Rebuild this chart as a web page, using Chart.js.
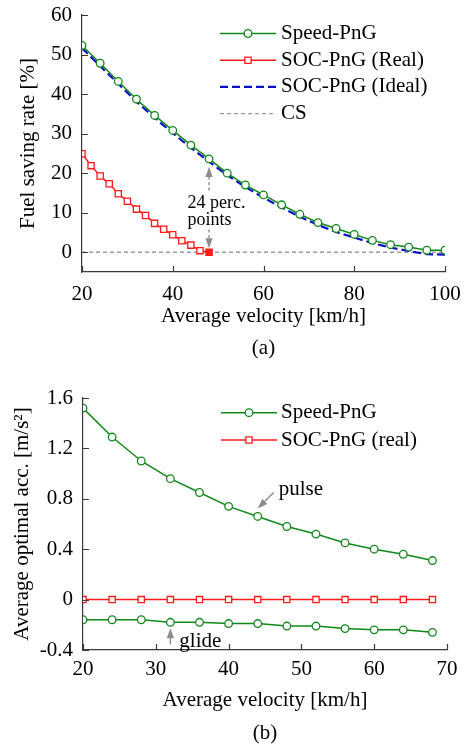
<!DOCTYPE html>
<html>
<head>
<meta charset="utf-8">
<script src="https://cdn.jsdelivr.net/npm/chart.js@4.4.1/dist/chart.umd.min.js"></script>
<style>
  html, body { margin: 0; padding: 0; background: #fff; }
  body { width: 465px; height: 748px; position: relative; overflow: hidden; }
  .panel { position: absolute; left: 0; width: 465px; }
  #panelA { top: 0; height: 370px; }
  #panelB { top: 370px; height: 378px; }
</style>
</head>
<body>
<div class="panel" id="panelA"><canvas id="chartA"></canvas></div>
<div class="panel" id="panelB"><canvas id="chartB"></canvas></div>
<script>
// ---------- (a) fuel saving rate vs. average velocity ----------
const speedVelocity = [20, 24, 28, 32, 36, 40, 44, 48, 52, 56, 60, 64, 68, 72, 76, 80, 84, 88, 92, 96, 100];
const speedSaving   = [52.3, 47.8, 43.2, 38.7, 34.6, 30.8, 27.1, 23.6, 20.0, 17.0, 14.5, 12.0, 9.6, 7.5, 6.0, 4.5, 3.0, 1.9, 1.3, 0.5, 0.5];
const idealSaving   = [51.6, 47.1, 42.6, 38.1, 34.0, 30.1, 26.4, 22.9, 19.5, 16.5, 13.8, 11.3, 9.0, 6.9, 5.1, 3.7, 2.3, 1.2, 0.3, -0.5, -0.6];
const socVelocity   = [20, 22, 24, 26, 28, 30, 32, 34, 36, 38, 40, 42, 44, 46, 48];
const socRealSaving = [24.9, 21.9, 19.3, 17.3, 14.8, 12.9, 10.9, 9.3, 7.3, 5.8, 4.4, 2.9, 1.8, 0.4, 0];
const csVelocity    = [20, 100];
const csSaving      = [0, 0];
const xTicksA = [20, 40, 60, 80, 100];
const yTicksA = [0, 10, 20, 30, 40, 50, 60];
const gapVelocity = 48;             // where the 24-point gap is marked

// ---------- (b) average optimal acceleration ----------
const accVelocity = [20, 24, 28, 32, 36, 40, 44, 48, 52, 56, 60, 64, 68];
const pulseAcc    = [1.52, 1.29, 1.10, 0.96, 0.85, 0.74, 0.66, 0.58, 0.52, 0.45, 0.40, 0.36, 0.31];
const glideAcc    = [-0.16, -0.16, -0.16, -0.18, -0.18, -0.19, -0.19, -0.21, -0.21, -0.23, -0.24, -0.24, -0.26];
const socRealAcc  = [0, 0, 0, 0, 0, 0, 0, 0, 0, 0, 0, 0, 0];
const xTicksB = [20, 30, 40, 50, 60, 70];
const yTicksB = [-0.4, 0, 0.4, 0.8, 1.2, 1.6];
const yTickLabelsB = ['-0.4', '0', '0.4', '0.8', '1.2', '1.6'];
const pulseMarkIndex = 6;           // point pointed at by "pulse"
const glideMarkIndex = 3;           // point pointed at by "glide"

const FAMILY = '"Liberation Serif", "Times New Roman", serif';
const GREEN = '#11881a';
const RED = '#ff1a1a';
const BLUE = '#0a10c8';
const AXIS = '#3a3a3a';
const NOTE = '#8c8c8c';

const pts = (xs, ys) => xs.map((x, i) => ({ x: x, y: ys[i] }));

function drawArrow(ctx, x0, y0, x1, y1, dash) {
  const a = Math.atan2(y1 - y0, x1 - x0);
  const L = 10, W = 3.6;
  const bx = x1 - L * Math.cos(a), by = y1 - L * Math.sin(a);
  ctx.save();
  ctx.strokeStyle = NOTE; ctx.fillStyle = NOTE; ctx.lineWidth = 1.4;
  ctx.setLineDash(dash || []);
  ctx.beginPath(); ctx.moveTo(x0, y0); ctx.lineTo(bx, by); ctx.stroke();
  ctx.setLineDash([]);
  ctx.beginPath();
  ctx.moveTo(x1, y1);
  ctx.lineTo(bx + W * Math.sin(a), by - W * Math.cos(a));
  ctx.lineTo(bx - W * Math.sin(a), by + W * Math.cos(a));
  ctx.closePath(); ctx.fill();
  ctx.restore();
}

// inward tick marks, line+marker legend, notes and panel caption
const decorations = {
  id: 'decorations',
  afterDraw(chart, args, opts) {
    const ctx = chart.ctx;
    const xs = chart.scales.x, ys = chart.scales.y;
    ctx.save();
    ctx.strokeStyle = AXIS; ctx.lineWidth = 1.2;
    ctx.beginPath();
    xs.ticks.forEach(t => {
      const p = Math.round(xs.getPixelForValue(t.value)) + 0.5;
      ctx.moveTo(p, ys.bottom); ctx.lineTo(p, ys.bottom - 6);
    });
    ys.ticks.forEach(t => {
      const p = Math.round(ys.getPixelForValue(t.value)) + 0.5;
      ctx.moveTo(xs.left, p); ctx.lineTo(xs.left + 6, p);
    });
    ctx.stroke();

    // legend
    const lg = opts.legend;
    ctx.font = '21px ' + FAMILY;
    ctx.textBaseline = 'middle'; ctx.textAlign = 'left';
    lg.items.forEach((it, k) => {
      const ds = chart.data.datasets[it.ds];
      const y = lg.y + k * lg.dy;
      ctx.save();
      ctx.strokeStyle = ds.borderColor; ctx.lineWidth = ds.borderWidth;
      ctx.setLineDash(ds.borderDash || []);
      ctx.beginPath(); ctx.moveTo(lg.x0, y); ctx.lineTo(lg.x1, y); ctx.stroke();
      ctx.setLineDash([]);
      if (ds.pointRadius > 0) {
        ctx.fillStyle = '#fff'; ctx.strokeStyle = ds.borderColor; ctx.lineWidth = ds.pointBorderWidth;
        Chart.helpers.drawPoint(ctx, { pointStyle: ds.pointStyle, radius: ds.pointRadius, rotation: 0, borderWidth: ds.pointBorderWidth }, (lg.x0 + lg.x1) / 2, y);
      }
      ctx.restore();
      ctx.fillStyle = '#000';
      ctx.fillText(it.label, lg.textX, y);
    });

    if (opts.notes) opts.notes(chart, ctx);

    ctx.font = '21px ' + FAMILY;
    ctx.fillStyle = '#000'; ctx.textAlign = 'center'; ctx.textBaseline = 'middle';
    ctx.fillText(opts.caption, (xs.left + xs.right) / 2, opts.captionY);
    ctx.restore();
  }
};

const tickFont = { family: FAMILY, size: 21 };
const titleFont = { family: FAMILY, size: 21 };

function noOverflow(s) {
  s.paddingLeft = 0; s.paddingRight = 0; s.paddingTop = 0; s.paddingBottom = 0;
}

function axisX(min, max, tickVals, padTick, title, padTitle, h) {
  return {
    type: 'linear', min: min, max: max,
    afterBuildTicks: s => { s.ticks = tickVals.map(v => ({ value: v })); },
    afterFit: s => { s.height = h; noOverflow(s); },
    grid: { display: false, drawTicks: false },
    border: { display: true, color: AXIS, width: 1.2 },
    ticks: { font: tickFont, color: '#000', padding: padTick, maxRotation: 0, autoSkip: false },
    title: { display: true, text: title, font: titleFont, color: '#000', padding: { top: 0, bottom: padTitle } }
  };
}
function axisY(min, max, tickVals, labels, padTick, title, padTitle, w) {
  return {
    type: 'linear', min: min, max: max,
    afterBuildTicks: s => { s.ticks = tickVals.map(v => ({ value: v })); },
    afterFit: s => { s.width = w; noOverflow(s); },
    grid: { display: false, drawTicks: false },
    border: { display: true, color: AXIS, width: 1.2 },
    ticks: {
      font: tickFont, color: '#000', padding: padTick, autoSkip: false,
      callback: (v, i) => labels ? labels[i] : String(v)
    },
    title: { display: true, text: title, font: titleFont, color: '#000', padding: { top: padTitle, bottom: 0 } }
  };
}

const circle = color => ({
  borderColor: color, backgroundColor: color, borderWidth: 1.5,
  pointStyle: 'circle', pointRadius: 3.8, pointBorderWidth: 1.3,
  pointBackgroundColor: '#fff', pointBorderColor: color, tension: 0
});
const square = color => ({
  borderColor: color, backgroundColor: color, borderWidth: 1.5,
  pointStyle: 'rect', pointRadius: 4.4, pointBorderWidth: 1.3,
  pointBorderColor: color, tension: 0
});

// ---------- chart (a) ----------
new Chart(document.getElementById('chartA'), {
  type: 'line',
  data: {
    datasets: [
      Object.assign({ label: 'Speed-PnG', data: pts(speedVelocity, speedSaving) }, circle(GREEN)),
      Object.assign({ label: 'SOC-PnG (Real)', data: pts(socVelocity, socRealSaving),
        pointBackgroundColor: socVelocity.map((v, i) => i === socVelocity.length - 1 ? RED : '#fff') }, square(RED)),
      { label: 'SOC-PnG (Ideal)', data: pts(speedVelocity, idealSaving), borderColor: BLUE, borderWidth: 2.2,
        borderDash: [8, 4], pointRadius: 0, tension: 0 },
      { label: 'CS', data: pts(csVelocity, csSaving), borderColor: '#9a9a9a', borderWidth: 1.3,
        borderDash: [4, 3], pointRadius: 0, tension: 0 }
    ]
  },
  options: {
    responsive: true, maintainAspectRatio: false, animation: false, devicePixelRatio: 1,
    events: [],
    layout: { autoPadding: false, padding: { left: 0, right: 20, top: 15, bottom: 0 } },
    scales: {
      x: axisX(20, 100, xTicksA, 10, 'Average velocity [km/h]', 41, 98),
      y: axisY(-5, 60, yTicksA, null, 10, 'Fuel saving rate [%]', 16, 82)
    },
    plugins: {
      legend: { display: false }, tooltip: { enabled: false },
      decorations: {
        legend: { x0: 220, x1: 276, textX: 281, y: 33.5, dy: 26.7, items: [
          { ds: 0, label: 'Speed-PnG' }, { ds: 1, label: 'SOC-PnG (Real)' },
          { ds: 2, label: 'SOC-PnG (Ideal)' }, { ds: 3, label: 'CS' } ] },
        caption: '(a)', captionY: 348,
        notes: (chart, ctx) => {
          const xs = chart.scales.x, ys = chart.scales.y;
          const gx = xs.getPixelForValue(gapVelocity);
          const topY = ys.getPixelForValue(speedSaving[speedVelocity.indexOf(gapVelocity)]) + 8;
          const botY = ys.getPixelForValue(0) - 4;
          const mid = (topY + botY) / 2;
          drawArrow(ctx, gx, mid - 17, gx, topY, [3, 2.5]);
          drawArrow(ctx, gx, mid + 22, gx, botY, [3, 2.5]);
          ctx.font = '18px ' + FAMILY;
          ctx.fillStyle = '#000'; ctx.textAlign = 'left'; ctx.textBaseline = 'alphabetic';
          ctx.fillText('24 perc.', gx - 21.5, mid + 0.5);
          ctx.fillText('points', gx - 21.5, mid + 17);
        }
      }
    }
  },
  plugins: [decorations]
});

// ---------- chart (b) ----------
new Chart(document.getElementById('chartB'), {
  type: 'line',
  data: {
    datasets: [
      Object.assign({ label: 'Speed-PnG', data: pts(accVelocity, pulseAcc) }, circle(GREEN)),
      Object.assign({ label: 'Speed-PnG glide', data: pts(accVelocity, glideAcc) }, circle(GREEN)),
      Object.assign({ label: 'SOC-PnG (real)', data: pts(accVelocity, socRealAcc), pointBackgroundColor: '#fff' }, square(RED))
    ]
  },
  options: {
    responsive: true, maintainAspectRatio: false, animation: false, devicePixelRatio: 1,
    events: [],
    layout: { autoPadding: false, padding: { left: 0, right: 18, top: 28, bottom: 0 } },
    scales: {
      x: axisX(20, 70, xTicksB, 7, 'Average velocity [km/h]', 35, 98),
      y: axisY(-0.4, 1.6, yTicksB, yTickLabelsB, 10, 'Average optimal acc. [m/s\u00B2]', 10, 83)
    },
    plugins: {
      legend: { display: false }, tooltip: { enabled: false },
      decorations: {
        legend: { x0: 221, x1: 277, textX: 281, y: 42.7, dy: 27.3, items: [
          { ds: 0, label: 'Speed-PnG' }, { ds: 2, label: 'SOC-PnG (real)' } ] },
        caption: '(b)', captionY: 363,
        notes: (chart, ctx) => {
          const xs = chart.scales.x, ys = chart.scales.y;
          const px = xs.getPixelForValue(accVelocity[pulseMarkIndex]);
          const py = ys.getPixelForValue(pulseAcc[pulseMarkIndex]);
          drawArrow(ctx, px + 16, py - 24, px, py - 8);
          const gx = xs.getPixelForValue(accVelocity[glideMarkIndex]);
          const gy = ys.getPixelForValue(glideAcc[glideMarkIndex]);
          drawArrow(ctx, gx, gy + 22, gx, gy + 6);
          ctx.font = '21px ' + FAMILY;
          ctx.fillStyle = '#000'; ctx.textAlign = 'left'; ctx.textBaseline = 'alphabetic';
          ctx.fillText('pulse', px + 21, py - 21);
          ctx.fillText('glide', gx + 9, gy + 25);
        }
      }
    }
  },
  plugins: [decorations]
});
</script>
</body>
</html>
